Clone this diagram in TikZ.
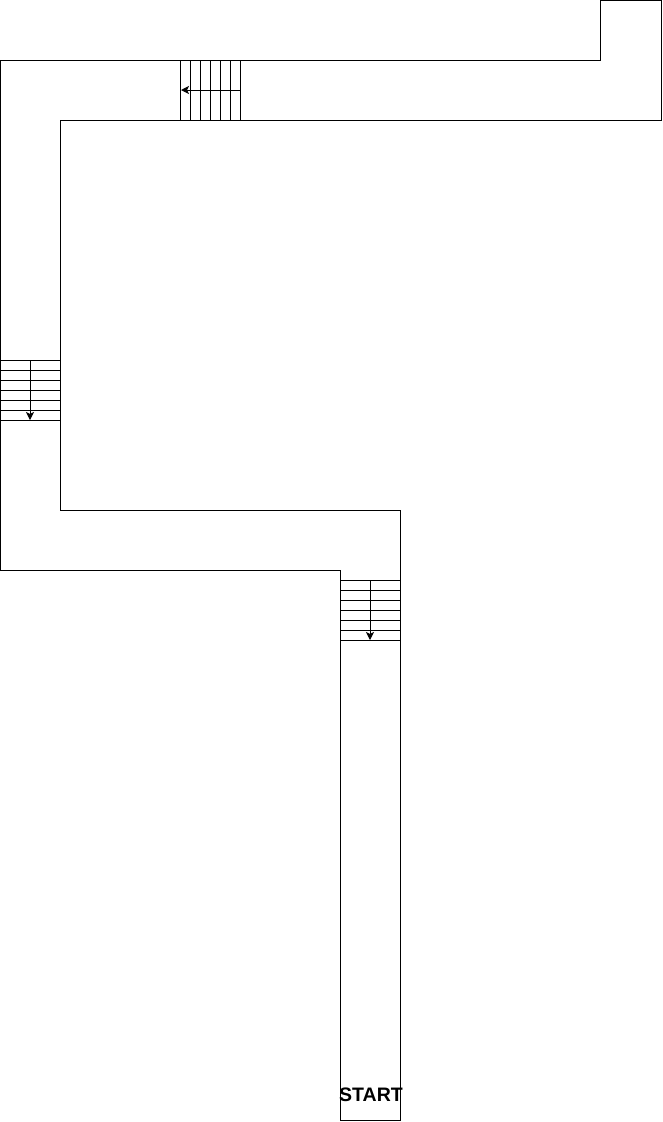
\documentclass[tikz,border=0pt]{standalone}
\usepackage{fontspec}
\setmainfont{Liberation Sans}
\usetikzlibrary{arrows.meta}
\begin{document}
\begin{tikzpicture}[x=1pt,y=-1pt,
  wall/.style={draw=black,line width=1pt},
  tread/.style={draw=black,line width=1pt},
  runarrow/.style={draw=black,line width=1pt,-{Stealth[length=8pt,width=8pt,inset=2pt]}},
  label/.style={font=\bfseries\fontsize{19.5}{19.5}\selectfont,inner sep=0pt}]
\useasboundingbox (0,0) rectangle (662,1122);
% outline of the corridor
\draw[wall] (600,0.5) -- (661,0.5) -- (661,120) -- (60,120) -- (60,510) -- (400,510)
  -- (400,1120) -- (340,1120) -- (340,570) -- (0.5,570) -- (0.5,60) -- (600,60) -- cycle;
% stairs 1 (top corridor)
\foreach \x in {180,190,...,240} \draw[tread] (\x,60) -- (\x,120);
\draw[runarrow] (240,90) -- (181,90);
% stairs 2 (left corridor)
\foreach \y in {360,370,...,420} \draw[tread] (0.5,\y) -- (60,\y);
\draw[runarrow] (30,360) -- (30,420);
% stairs 3 (bottom corridor)
\foreach \y in {580,590,...,640} \draw[tread] (340,\y) -- (400,\y);
\draw[runarrow] (370,580) -- (370,640);
\node[label] (start) at (371,1095) {START};
\end{tikzpicture}
\end{document}
